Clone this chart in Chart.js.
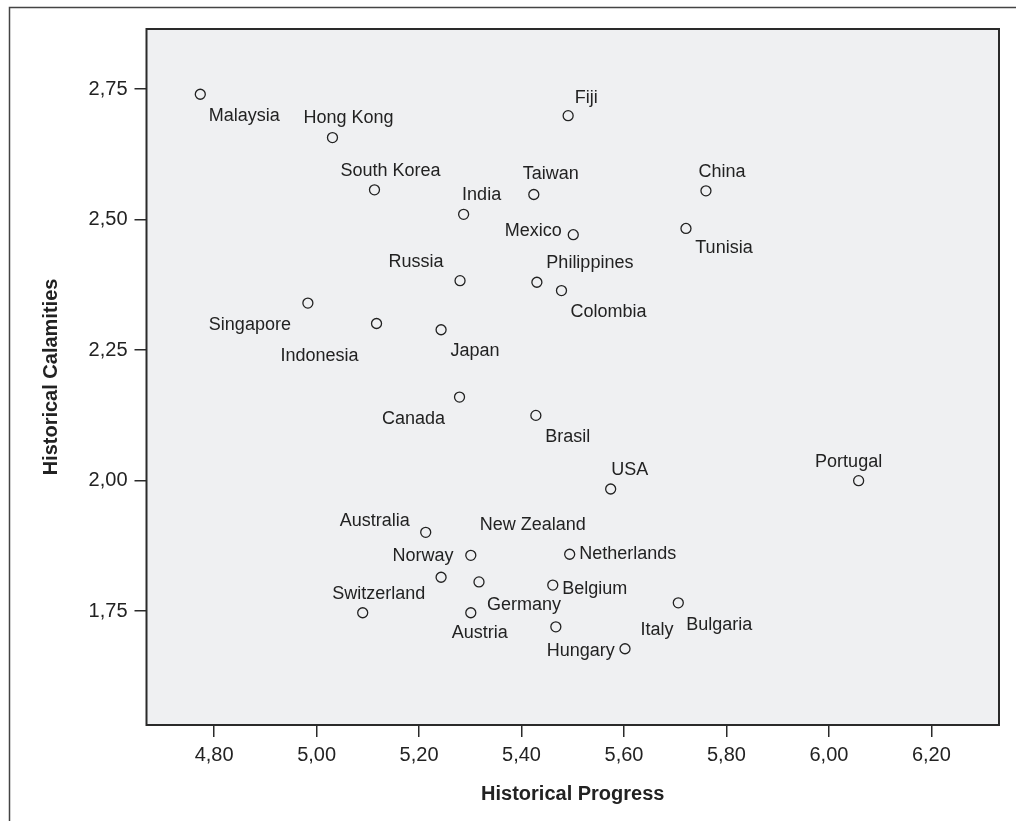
<!DOCTYPE html>
<html>
<head>
<meta charset="utf-8">
<script src="https://cdn.jsdelivr.net/npm/chart.js@4/dist/chart.umd.min.js"></script>
<style>
  body { margin: 0; background: #fff; }
  #wrap { width: 1016px; height: 821px; }
</style>
</head>
<body>
<div id="wrap"><canvas id="scatter" width="1016" height="821"></canvas></div>
<script>
// countries and their scores
const countries = ['Malaysia', 'Hong Kong', 'South Korea', 'Fiji', 'Taiwan', 'India', 'China', 'Mexico',
  'Tunisia', 'Russia', 'Philippines', 'Colombia', 'Singapore', 'Indonesia', 'Japan', 'Canada', 'Brasil',
  'USA', 'Portugal', 'Australia', 'New Zealand', 'Norway', 'Netherlands', 'Belgium', 'Germany',
  'Switzerland', 'Austria', 'Hungary', 'Italy', 'Bulgaria'];
const progress = [4.773, 5.031, 5.113, 5.491, 5.424, 5.287, 5.760, 5.501,
  5.721, 5.280, 5.430, 5.478, 4.983, 5.117, 5.243, 5.279, 5.428,
  5.574, 6.058, 5.213, 5.301, 5.243, 5.494, 5.461, 5.317,
  5.090, 5.301, 5.467, 5.602, 5.706];
const calamities = [2.740, 2.657, 2.557, 2.699, 2.548, 2.510, 2.555, 2.471,
  2.483, 2.383, 2.380, 2.364, 2.340, 2.301, 2.289, 2.160, 2.125,
  1.984, 2.000, 1.901, 1.857, 1.815, 1.859, 1.800, 1.806,
  1.747, 1.747, 1.720, 1.678, 1.766];
const xTicks = [4.8, 5.0, 5.2, 5.4, 5.6, 5.8, 6.0, 6.2];
const yTicks = [1.75, 2.0, 2.25, 2.5, 2.75];

// where each name sits relative to its marker (label centre offset, px)
const labelOffset = {
  'Malaysia': [44, 22], 'Hong Kong': [16, -20], 'South Korea': [16, -19], 'Fiji': [18, -18],
  'Taiwan': [17, -20], 'India': [18, -19], 'China': [16, -19], 'Mexico': [-40, -4],
  'Tunisia': [38, 20], 'Russia': [-44, -19], 'Philippines': [53, -19], 'Colombia': [47, 21],
  'Singapore': [-58, 22], 'Indonesia': [-57, 33], 'Japan': [34, 21], 'Canada': [-46, 22],
  'Brasil': [32, 22], 'USA': [19, -19], 'Portugal': [-10, -19], 'Australia': [-51, -11],
  'New Zealand': [62, -30], 'Norway': [-18, -21], 'Netherlands': [58, 0], 'Belgium': [42, 4],
  'Germany': [45, 23], 'Switzerland': [16, -19], 'Austria': [9, 20], 'Hungary': [25, 24],
  'Italy': [32, -19], 'Bulgaria': [41, 22]
};

const fmt = v => v.toFixed(2).replace('.', ',');

const framePlugin = {
  id: 'frame',
  beforeDraw(chart) {
    const {ctx, chartArea: a} = chart;
    ctx.save();
    ctx.fillStyle = '#eff0f2';
    ctx.fillRect(a.left, a.top, a.right - a.left, a.bottom - a.top);
    // outer border of the figure
    ctx.strokeStyle = '#444';
    ctx.lineWidth = 1.5;
    ctx.beginPath();
    ctx.moveTo(9.5, chart.height);
    ctx.lineTo(9.5, 7.5);
    ctx.lineTo(chart.width, 7.5);
    ctx.stroke();
    ctx.restore();
  },
  afterDraw(chart) {
    const {ctx, chartArea: a} = chart;
    ctx.save();
    ctx.strokeStyle = '#2a2a2a';
    ctx.lineWidth = 2;
    ctx.strokeRect(a.left, a.top, a.right - a.left, a.bottom - a.top);
    ctx.restore();
  }
};

const namePlugin = {
  id: 'names',
  afterDatasetsDraw(chart) {
    const {ctx} = chart;
    const pts = chart.getDatasetMeta(0).data;
    ctx.save();
    ctx.font = '18px "Liberation Sans", Arial, sans-serif';
    ctx.fillStyle = '#222';
    ctx.textAlign = 'center';
    ctx.textBaseline = 'middle';
    pts.forEach((p, i) => {
      const off = labelOffset[countries[i]] || [0, -18];
      ctx.fillText(countries[i], p.x + off[0], p.y + off[1]);
    });
    ctx.restore();
  }
};

new Chart(document.getElementById('scatter').getContext('2d'), {
  type: 'scatter',
  data: {
    datasets: [{
      data: countries.map((c, i) => ({x: progress[i], y: calamities[i]})),
      pointRadius: 5,
      pointHoverRadius: 5,
      borderWidth: 1.3,
      borderColor: '#222',
      backgroundColor: 'rgba(0,0,0,0)'
    }]
  },
  options: {
    responsive: false,
    animation: false,
    layout: {padding: {left: 0, right: 17, top: 29, bottom: 0}},
    plugins: {legend: {display: false}, tooltip: {enabled: false}},
    scales: {
      x: {
        type: 'linear',
        min: 4.668, max: 6.332,
        afterBuildTicks: s => { s.ticks = xTicks.map(v => ({value: v})); },
        afterFit: s => { s.height = 96; },
        grid: {drawOnChartArea: false, drawTicks: true, tickLength: 12, color: '#2a2a2a', lineWidth: 1.5},
        border: {display: false},
        ticks: {callback: v => fmt(v), padding: 6, color: '#222', maxRotation: 0,
          font: {family: '"Liberation Sans", Arial, sans-serif', size: 20}},
        title: {display: true, text: 'Historical Progress', color: '#222', padding: {top: 0, bottom: 15},
          font: {family: '"Liberation Sans", Arial, sans-serif', size: 20, weight: 'bold'}}
      },
      y: {
        type: 'linear',
        min: 1.532, max: 2.865,
        afterBuildTicks: s => { s.ticks = yTicks.map(v => ({value: v})); },
        afterFit: s => { s.width = 146.5; },
        grid: {drawOnChartArea: false, drawTicks: true, tickLength: 12, color: '#2a2a2a', lineWidth: 1.5},
        border: {display: false},
        ticks: {callback: v => fmt(v), padding: 7, color: '#222',
          font: {family: '"Liberation Sans", Arial, sans-serif', size: 20}},
        title: {display: true, text: 'Historical Calamities', color: '#222', padding: {top: 39, bottom: 0},
          font: {family: '"Liberation Sans", Arial, sans-serif', size: 20, weight: 'bold'}}
      }
    }
  },
  plugins: [framePlugin, namePlugin]
});
</script>
</body>
</html>
